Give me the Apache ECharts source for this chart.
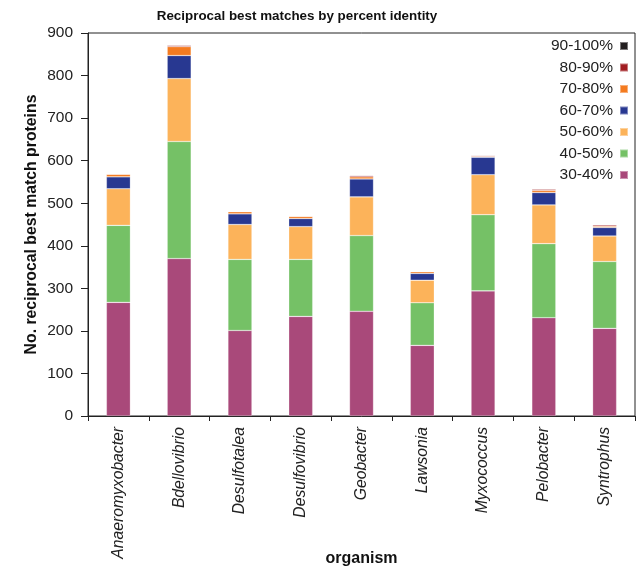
<!DOCTYPE html>
<html>
<head>
<meta charset="utf-8">
<script src="https://cdn.jsdelivr.net/npm/echarts@6/dist/echarts.min.js"></script>
<style>
  html, body { margin: 0; padding: 0; background: #fff; }
  #chart { width: 643px; height: 568px; }
</style>
</head>
<body>
<div id="chart"></div>
<script>
// Organisms on the x axis
const organisms = ['Anaeromyxobacter', 'Bdellovibrio', 'Desulfotalea', 'Desulfovibrio',
  'Geobacter', 'Lawsonia', 'Myxococcus', 'Pelobacter', 'Syntrophus'];

// Number of reciprocal best match proteins per identity bin
const id30to40  = [267, 370, 201, 234, 246, 166, 294, 231, 206];
const id40to50  = [181, 275, 167, 134, 178, 100, 179, 174, 157];
const id50to60  = [86, 148, 82, 77, 91, 53, 94, 91, 60];
const id60to70  = [28, 54, 25, 19, 42, 16, 41, 29, 20];
const id70to80  = [6, 21, 5, 5, 5, 4, 2, 5, 3];
const id80to90  = [1, 3, 1, 1, 3, 1, 2, 3, 3];
const id90to100 = [0, 1, 0, 0, 1, 0, 1, 1, 1];

const binNames = ['30-40%', '40-50%', '50-60%', '60-70%', '70-80%', '80-90%', '90-100%'];
const binValues = [id30to40, id40to50, id50to60, id60to70, id70to80, id80to90, id90to100];
const binColors = ['#A9497A', '#75C166', '#FCB35A', '#283891', '#F47B20', '#A11D21', '#231F20'];

const FONT = 'Liberation Sans, Arial, Helvetica, sans-serif';

const chart = echarts.init(document.getElementById('chart'), null, { renderer: 'canvas' });

const series = binNames.map((name, i) => ({
  name: name,
  type: 'bar',
  stack: 'total',
  barWidth: 24,
  data: binValues[i],
  itemStyle: {
    color: binColors[i],
    borderColor: 'rgba(255,255,255,0.4)',
    borderWidth: 0.6
  },
  emphasis: { disabled: true }
}));

chart.setOption({
  animation: false,
  backgroundColor: '#fff',
  title: {
    text: 'Reciprocal best matches by percent identity',
    left: 292,
    textAlign: 'center',
    top: 5,
    textStyle: { fontFamily: FONT, fontSize: 13.4, fontWeight: 'bold', color: '#111' }
  },
  legend: {
    data: binNames.slice().reverse(),
    orient: 'vertical',
    right: 9,
    top: 33,
    align: 'right',
    itemWidth: 8,
    itemHeight: 8,
    itemGap: 5.5,
    icon: 'rect',
    selectedMode: false,
    textStyle: { fontFamily: FONT, fontSize: 15.5, color: '#222', lineHeight: 16, padding: [0, 2, 0, 0] }
  },
  grid: {
    left: 88, right: 8, top: 33, bottom: 152,
    containLabel: false,
    outerBoundsMode: 'none',
    show: true, borderColor: '#222', borderWidth: 1
  },
  xAxis: {
    type: 'category',
    data: organisms,
    name: 'organism',
    nameLocation: 'middle',
    nameGap: 135,
    nameMoveOverlap: false,
    nameTextStyle: { fontFamily: FONT, fontSize: 16, fontWeight: 'bold', color: '#111' },
    axisLine: { lineStyle: { color: '#222', width: 1 } },
    axisTick: { show: true, alignWithLabel: false, length: 5, lineStyle: { color: '#222' } },
    axisLabel: {
      rotate: 90,
      interval: 0,
      margin: 11,
      fontFamily: FONT,
      fontSize: 15.7,
      fontStyle: 'italic',
      color: '#222'
    }
  },
  yAxis: {
    type: 'value',
    min: 0,
    max: 900,
    interval: 100,
    name: 'No. reciprocal best match proteins',
    nameLocation: 'middle',
    nameGap: 48,
    nameMoveOverlap: false,
    nameTextStyle: { fontFamily: FONT, fontSize: 15.8, fontWeight: 'bold', color: '#111' },
    axisLine: { show: true, lineStyle: { color: '#222', width: 1 } },
    axisTick: { show: true, length: 7, lineStyle: { color: '#222' } },
    axisLabel: { fontFamily: FONT, fontSize: 15.5, color: '#222', margin: 15 },
    splitLine: { show: false }
  },
  series: series
});
</script>
</body>
</html>
